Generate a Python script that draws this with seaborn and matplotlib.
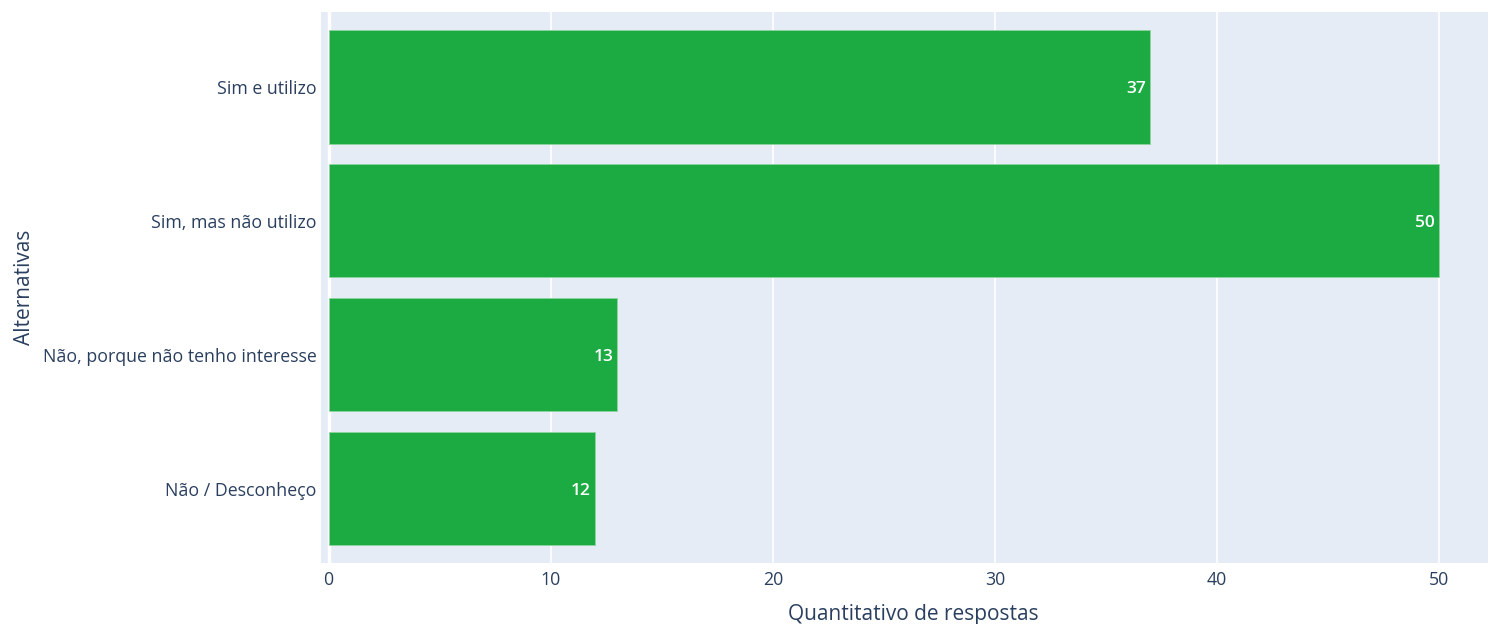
import pandas as pd
import matplotlib.pyplot as plt
import seaborn as sns

############################################################
# Data
############################################################

alternativas = [
    "Sim e utilizo",
    "Sim, mas não utilizo",
    "Não, porque não tenho interesse",
    "Não / Desconheço",
]

respostas = [37, 50, 13, 12]

df = pd.DataFrame({"Alternativas": alternativas, "Respostas": respostas})

############################################################
# Plot
############################################################

sns.set_style("darkgrid", {
    "axes.facecolor": "#e5ecf6",
    "grid.color": "white",
    "axes.edgecolor": "#e5ecf6",
})
plt.rcParams["font.family"] = ["Open Sans", "DejaVu Sans"]

text_color = "#2a3f5f"
bar_color = "#1caa42"

fig, ax = plt.subplots(figsize=(14.88, 6.24), dpi=100)
fig.subplots_adjust(left=321 / 1488, right=1.0, top=1 - 12 / 624, bottom=1 - 563 / 624)

sns.barplot(
    data=df,
    x="Respostas",
    y="Alternativas",
    color=bar_color,
    saturation=1,
    width=0.845,
    edgecolor="#8fd4a0",
    linewidth=0.6,
    ax=ax,
)

# value labels inside the bar end
for i, v in enumerate(respostas):
    ax.annotate(
        str(v),
        xy=(v, i),
        xytext=(-3, 0),
        textcoords="offset points",
        ha="right",
        va="center_baseline",
        color="white",
        fontsize=12.5,
        fontweight="semibold",
    )

ax.set_xlim(-0.34, 52.2)
ax.set_ylim(3.555, -0.56)
ax.set_xticks([0, 10, 20, 30, 40, 50])
ax.grid(axis="y", visible=False)
ax.grid(axis="x", color="white", linewidth=1.2)
ax.axvline(0, color="white", linewidth=2.5, zorder=0.5)

ax.tick_params(axis="y", colors=text_color, labelsize=12.8, length=0, pad=3)
ax.tick_params(axis="x", colors=text_color, labelsize=12.8, length=0, pad=6)
ax.set_xlabel("Quantitativo de respostas", color=text_color, fontsize=15)
ax.xaxis.set_label_coords((913 - 321) / (1488 - 321), -0.074, transform=ax.transAxes)
ax.xaxis.label.set_va("top")
ax.set_ylabel("Alternativas", color=text_color, fontsize=15, labelpad=6)

for spine in ax.spines.values():
    spine.set_visible(False)

plt.savefig("out.png", dpi=100)
plt.close()
